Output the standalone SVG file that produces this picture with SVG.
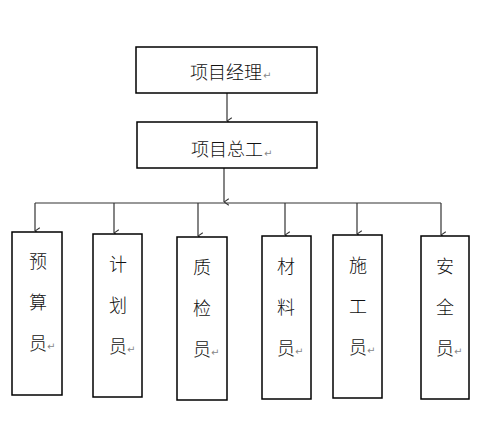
<svg xmlns="http://www.w3.org/2000/svg" width="496" height="427" viewBox="0 0 496 427">
<defs>
<marker id="arr" viewBox="0 0 10 10" refX="5" refY="10" markerWidth="8" markerHeight="8" markerUnits="userSpaceOnUse" orient="auto-start-reverse">
<polyline points="1,4 5,10 9,4" fill="none" stroke="#333" stroke-width="1.3"/>
</marker>
<style>
.box{fill:#fff;stroke:#000;stroke-width:1.5}
.t{font-family:"Noto Sans CJK SC","Noto Sans",sans-serif;font-size:18px;fill:#111;font-weight:300}
.c{text-anchor:middle}
.p{font-family:"DejaVu Sans",sans-serif;font-size:10px;fill:#888}
.ln{stroke:#333;stroke-width:1.2;fill:none}
</style>
</defs>
<rect width="496" height="427" fill="#fff"/>
<g id="connectors">
<line class="ln" x1="227" y1="93" x2="227" y2="121" marker-end="url(#arr)"/>
<line class="ln" x1="224" y1="168" x2="224" y2="202" marker-end="url(#arr)"/>
<line class="ln" x1="35" y1="203" x2="441" y2="203"/>
<line class="ln" x1="35" y1="203" x2="35" y2="231" marker-end="url(#arr)"/>
<line class="ln" x1="114" y1="203" x2="114" y2="233" marker-end="url(#arr)"/>
<line class="ln" x1="198" y1="203" x2="198" y2="236" marker-end="url(#arr)"/>
<line class="ln" x1="285" y1="203" x2="285" y2="235" marker-end="url(#arr)"/>
<line class="ln" x1="357" y1="203" x2="357" y2="234" marker-end="url(#arr)"/>
<line class="ln" x1="441" y1="203" x2="441" y2="235" marker-end="url(#arr)"/>
</g>
<g id="n-manager">
<rect class="box" x="136" y="47" width="181" height="46"/>
<text class="t" x="190" y="79">项目经理</text><text class="p" x="263" y="79">↵</text>
</g>
<g id="n-chief">
<rect class="box" x="137" y="122" width="180" height="46"/>
<text class="t" x="191" y="156">项目总工</text><text class="p" x="264" y="157">↵</text>
</g>
<g id="n-yusuan">
<rect class="box" x="12" y="232" width="50" height="163"/>
<text class="t c" x="38" y="268">预</text><text class="t c" x="38" y="309">算</text><text class="t c" x="38" y="350">员</text><text class="p" x="47" y="350">↵</text>
</g>
<g id="n-jihua">
<rect class="box" x="93" y="234" width="49" height="163"/>
<text class="t c" x="118" y="271">计</text><text class="t c" x="118" y="312">划</text><text class="t c" x="118" y="353">员</text><text class="p" x="127" y="353">↵</text>
</g>
<g id="n-zhijian">
<rect class="box" x="177" y="237" width="50" height="163"/>
<text class="t c" x="202" y="274">质</text><text class="t c" x="202" y="315">检</text><text class="t c" x="202" y="356">员</text><text class="p" x="211" y="356">↵</text>
</g>
<g id="n-cailiao">
<rect class="box" x="262" y="236" width="49" height="163"/>
<text class="t c" x="286" y="273">材</text><text class="t c" x="286" y="314">料</text><text class="t c" x="286" y="355">员</text><text class="p" x="295" y="355">↵</text>
</g>
<g id="n-shigong">
<rect class="box" x="333" y="235" width="49" height="163"/>
<text class="t c" x="358" y="272">施</text><text class="t c" x="358" y="313">工</text><text class="t c" x="358" y="354">员</text><text class="p" x="367" y="354">↵</text>
</g>
<g id="n-anquan">
<rect class="box" x="421" y="236" width="48" height="163"/>
<text class="t c" x="445" y="273">安</text><text class="t c" x="445" y="314">全</text><text class="t c" x="445" y="355">员</text><text class="p" x="454" y="355">↵</text>
</g>
</svg>
